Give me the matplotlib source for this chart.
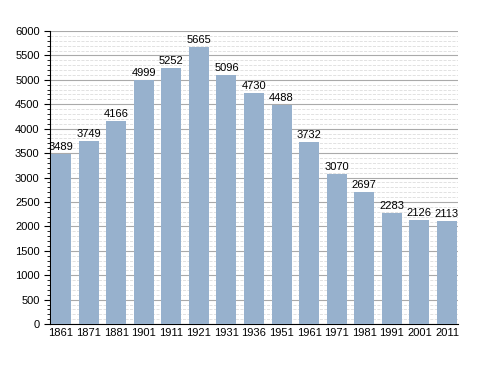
import numpy as np
import matplotlib.pyplot as plt
from matplotlib.ticker import MultipleLocator

years = ['1861', '1871', '1881', '1901', '1911', '1921', '1931', '1936',
         '1951', '1961', '1971', '1981', '1991', '2001', '2011']
population = [3489, 3749, 4166, 4999, 5252, 5665, 5096, 4730,
              4488, 3732, 3070, 2697, 2283, 2126, 2113]

plt.rcParams['font.family'] = ['Liberation Sans', 'DejaVu Sans']

fig = plt.figure(figsize=(4.88, 3.73), dpi=100)
ax = fig.add_axes([0.1025, 0.131, 0.836, 0.786])

x = np.arange(len(years))
ax.bar(x, population, width=0.73, color='#97b1cd', zorder=3)

for xi, v in zip(x, population):
    ax.text(xi, v + 40, str(v), ha='center', va='bottom', fontsize=8, zorder=4)

ax.set_xlim(-0.4, 14.4)
ax.set_ylim(0, 6000)
ax.set_xticks(x)
ax.set_xticklabels(years)
ax.yaxis.set_major_locator(MultipleLocator(500))
ax.yaxis.set_minor_locator(MultipleLocator(100))
ax.grid(axis='y', which='major', color='#aaaaaa', linewidth=0.8, zorder=0)
ax.grid(axis='y', which='minor', color='#dddddd', linewidth=0.6, linestyle='--', zorder=0)

for s in ['top', 'right']:
    ax.spines[s].set_visible(False)
ax.tick_params(axis='both', labelsize=8, length=4, width=0.8)
ax.tick_params(axis='x', length=0, pad=3)
ax.tick_params(axis='y', which='minor', length=2)

fig.savefig('out.png', dpi=100)
